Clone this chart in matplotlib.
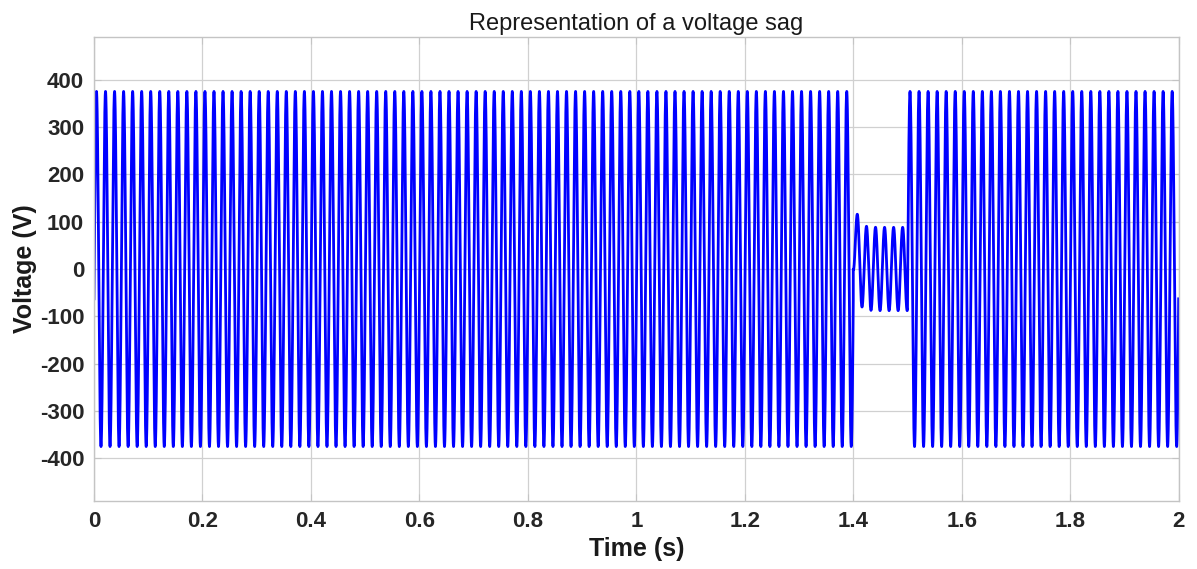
import numpy as np
import matplotlib
matplotlib.use("Agg")
import matplotlib.pyplot as plt

plt.rcParams["font.family"] = ["Liberation Sans", "DejaVu Sans"]
plt.rcParams["axes.unicode_minus"] = False

# waveform parameters
freq_hz = 60.0           # supply frequency
amp_v = 375.0            # nominal peak voltage
v_at_zero = -63.0        # value of the trace at t = 0
sag_start_s = 1.4
sag_end_s = 1.5
sag_amp_v = 88.0         # steady peak during the sag
sag_first_peak_s = 1.4077
sag_dc_v = 85.0          # decaying offset at sag onset
sag_tau_s = 0.0067
t_end_s = 2.0

x_ticks = [0, 0.2, 0.4, 0.6, 0.8, 1.0, 1.2, 1.4, 1.6, 1.8, 2.0]
x_tick_labels = ["0", "0.2", "0.4", "0.6", "0.8", "1", "1.2", "1.4", "1.6", "1.8", "2"]
y_ticks = [-400, -300, -200, -100, 0, 100, 200, 300, 400]

w = 2 * np.pi * freq_hz
phi0 = np.arcsin(v_at_zero / amp_v)
t = np.arange(0, t_end_s + 1e-9, 2e-5)
v = amp_v * np.sin(w * t + phi0)

in_sag = (t >= sag_start_s) & (t < sag_end_s)
ts = t[in_sag] - sag_start_s
phis = np.pi / 2 - w * (sag_first_peak_s - sag_start_s)
v[in_sag] = sag_amp_v * np.sin(w * ts + phis) + sag_dc_v * np.exp(-ts / sag_tau_s)

fig = plt.figure(figsize=(11.97, 5.69), dpi=100)
ax = fig.add_axes([0.0785, 0.1195, 0.9062, 0.8155])
ax.plot(t, v, color="#0000ff", lw=2.0)

ax.set_xlim(0, t_end_s)
ax.set_ylim(-490, 490)
ax.set_xticks(x_ticks)
ax.set_xticklabels(x_tick_labels)
ax.set_yticks(y_ticks)
ax.grid(True, color="#d0d0d0", lw=0.9)
ax.set_axisbelow(True)
for s in ax.spines.values():
    s.set_color("#c4c4c4")
    s.set_linewidth(1.0)
ax.tick_params(direction="in", length=5, color="#c4c4c4", labelcolor="#262626",
               labelsize=16, top=True, right=True, pad=7)
for lab in ax.get_xticklabels() + ax.get_yticklabels():
    lab.set_fontweight("bold")

ax.set_title("Representation of a voltage sag", fontsize=17, color="#1a1a1a", pad=5)
ax.set_xlabel("Time (s)", fontsize=18, fontweight="bold", color="#1a1a1a", labelpad=4)
ax.set_ylabel("Voltage (V)", fontsize=18, fontweight="bold", color="#1a1a1a", labelpad=2)

fig.savefig("out.png", dpi=100)
